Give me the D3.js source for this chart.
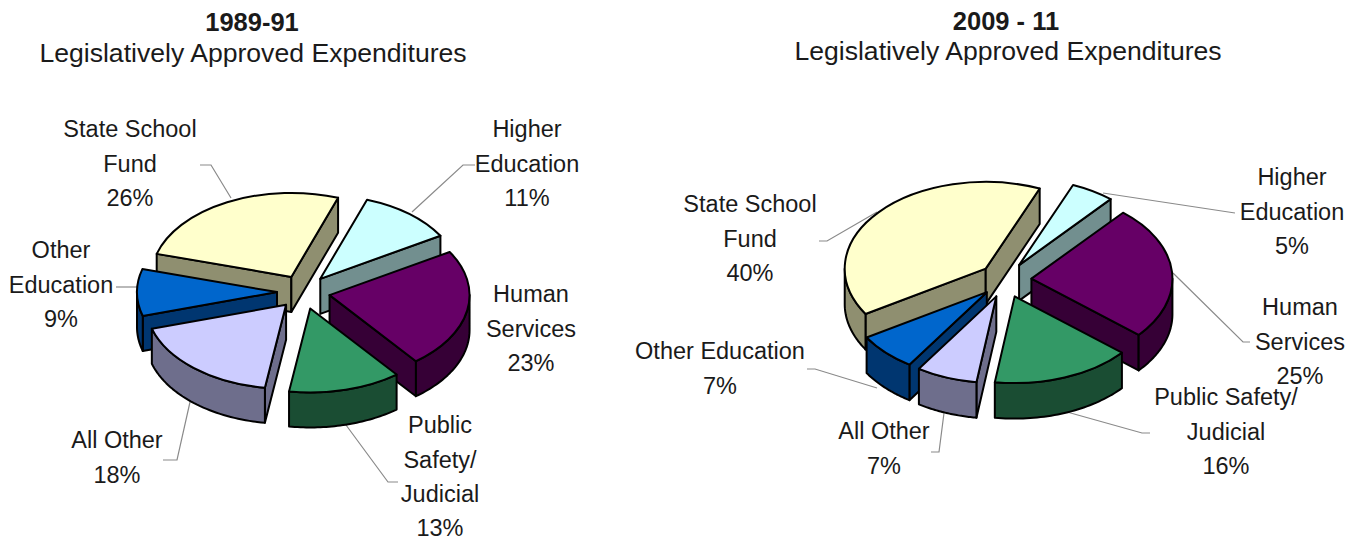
<!DOCTYPE html>
<html>
<head>
<meta charset="utf-8">
<style>
  html, body { margin: 0; padding: 0; background: #fff; }
  svg { display: block; }
  text { font-family: "Liberation Sans", Arial, sans-serif; fill: #1a1a1a; }
</style>
<script src="https://cdn.jsdelivr.net/npm/d3@7"></script>
</head>
<body>
<svg id="chart" width="1358" height="542"></svg>
<script>
// Budget shares by program area, in the order the slices run clockwise.
const programs = ["Higher Education", "Human Services", "Public Safety/Judicial", "All Other", "Other Education", "State School Fund"];
const shares1989 = [11, 23, 13, 18, 9, 26];
const shares2009 = [5, 25, 16, 7, 7, 40];
const topColors = ["#CCFFFF", "#660066", "#339966", "#CCCCFF", "#0066CC", "#FFFFCC"];
const wallColors = ["#728F8F", "#360036", "#1A4D33", "#6E6E8C", "#003670", "#8F8F70"];

// Layout of the two pies: projection, explosion and label placement.
const pies = [
  {
    title: "1989-91", titleX: 252, titleY: 31, subX: 253, subY: 62,
    values: shares1989, cx: 303.5, cy: 292, radius: 140, tilt: 0.6, depth: 35,
    explodeX: 26.5, explodeY: 17, startDeg: 19.5,
    labels: [
      { lines: ["Higher", "Education"], x: 527, y: 129 },
      { lines: ["Human", "Services"], x: 531, y: 294 },
      { lines: ["Public", "Safety/", "Judicial"], x: 440, y: 425 },
      { lines: ["All Other"], x: 117, y: 440 },
      { lines: ["Other", "Education"], x: 61, y: 250 },
      { lines: ["State School", "Fund"], x: 130, y: 129 }
    ],
    leaders: [
      [[475, 165], [463, 165], [412, 212]],
      null,
      [[398, 482], [388, 482], [346, 425]],
      [[163, 460], [177, 460], [190, 402]],
      [[116, 287], [137, 287]],
      [[200, 165], [211, 165], [231, 198]]
    ]
  },
  {
    title: "2009 - 11", titleX: 1006, titleY: 30, subX: 1008, subY: 60,
    values: shares2009, cx: 1005.5, cy: 280, radius: 141, tilt: 0.615, depth: 35.5,
    explodeX: 26, explodeY: 17.5, startDeg: 22.5,
    labels: [
      { lines: ["Higher", "Education"], x: 1292, y: 177 },
      { lines: ["Human", "Services"], x: 1300, y: 307 },
      { lines: ["Public Safety/", "Judicial"], x: 1226, y: 397 },
      { lines: ["All Other"], x: 884, y: 431 },
      { lines: ["Other Education"], x: 720, y: 351 },
      { lines: ["State School", "Fund"], x: 750, y: 204 }
    ],
    leaders: [
      [[1235, 213], [1103, 193]],
      [[1250, 342], [1243, 342], [1173, 273]],
      [[1150, 433], [1142, 433], [1067, 412]],
      [[931, 452], [939, 452], [944, 413]],
      [[807, 369], [815, 369], [877, 388]],
      [[819, 241], [827, 241], [877, 212]]
    ]
  }
];

const svg = d3.select("#chart");
const lineGap = 34.3, labelSize = 23.5;

function drawPie(spec) {
  const { radius, tilt, depth } = spec;
  // Projected position of a point on the rim of a slice whose apex is at the origin.
  const rimPoint = a => [radius * Math.sin(a), -radius * tilt * Math.cos(a)];

  const start = spec.startDeg * Math.PI / 180;
  const arcs = d3.pie().sort(null).startAngle(start).endAngle(start + 2 * Math.PI)(spec.values);
  const top = d3.arc().innerRadius(0).outerRadius(radius);
  const root = svg.append("g");

  // Leader lines sit underneath the slices.
  const leaderLine = d3.line();
  root.selectAll("path.leader")
    .data(spec.leaders.filter(Boolean))
    .join("path")
    .attr("class", "leader")
    .attr("d", leaderLine)
    .attr("fill", "none")
    .attr("stroke", "#8a8a8a")
    .attr("stroke-width", 1.2);

  // Paint from the back of the pie to the front.
  const ordered = arcs
    .map(d => {
      const mid = (d.startAngle + d.endAngle) / 2;
      return { ...d, mid, ox: spec.cx + spec.explodeX * Math.sin(mid), oy: spec.cy - spec.explodeY * Math.cos(mid) };
    })
    .sort((p, q) => Math.cos(q.mid) - Math.cos(p.mid));

  ordered.forEach(d => {
    const g = root.append("g").attr("transform", `translate(${d.ox},${d.oy})`);
    const wall = wallColors[d.index];
    const inner = rimPoint(d.mid);

    // Radial walls that face the viewer.
    [d.startAngle, d.endAngle].forEach(a => {
      const q = rimPoint(a);
      const lineY = q[1] * (inner[0] / q[0]);
      const visible = Math.abs(q[0]) < 1e-6 ? false : inner[1] < lineY;
      if (!visible) return;
      g.append("path")
        .attr("d", d3.line()([[0, 0], q, [q[0], q[1] + depth], [0, depth]]) + "Z")
        .attr("fill", wall).attr("stroke", "#000").attr("stroke-width", 2).attr("stroke-linejoin", "round");
    });

    // Outer rim wall: the portion of the arc on the front half of the pie.
    [0, 2 * Math.PI].forEach(turn => {
      const from = Math.max(d.startAngle, Math.PI / 2 + turn);
      const to = Math.min(d.endAngle, 3 * Math.PI / 2 + turn);
      if (to <= from) return;
      const steps = d3.range(41).map(i => from + (to - from) * i / 40);
      const rim = d3.area()
        .x(a => rimPoint(a)[0])
        .y0(a => rimPoint(a)[1])
        .y1(a => rimPoint(a)[1] + depth);
      g.append("path").attr("d", rim(steps))
        .attr("fill", wall).attr("stroke", "#000").attr("stroke-width", 2).attr("stroke-linejoin", "round");
    });

    // Top face: a circular sector flattened by the tilt.
    g.append("path")
      .attr("d", top(d))
      .attr("transform", `scale(1,${tilt})`)
      .attr("vector-effect", "non-scaling-stroke")
      .attr("fill", topColors[d.index])
      .attr("stroke", "#000").attr("stroke-width", 2).attr("stroke-linejoin", "round");
  });

  // Category names with the percentage on the last line.
  spec.labels.forEach((lab, i) => {
    const rows = lab.lines.concat(spec.values[i] + "%");
    const t = root.append("text")
      .attr("text-anchor", "middle")
      .attr("font-size", labelSize);
    rows.forEach((row, j) => {
      t.append("tspan")
        .attr("x", lab.x)
        .attr("y", lab.y + j * lineGap + labelSize * 0.36)
        .text(row);
    });
  });

  // Heading block above the pie.
  const heading = root.append("text").attr("text-anchor", "middle").attr("fill", "#000");
  heading.append("tspan").attr("x", spec.titleX).attr("y", spec.titleY)
    .attr("font-weight", "bold").attr("font-size", 25.5).text(spec.title);
  heading.append("tspan").attr("x", spec.subX).attr("y", spec.subY)
    .attr("font-size", 26.6).text("Legislatively Approved Expenditures");
}

pies.forEach(drawPie);
</script>
</body>
</html>
